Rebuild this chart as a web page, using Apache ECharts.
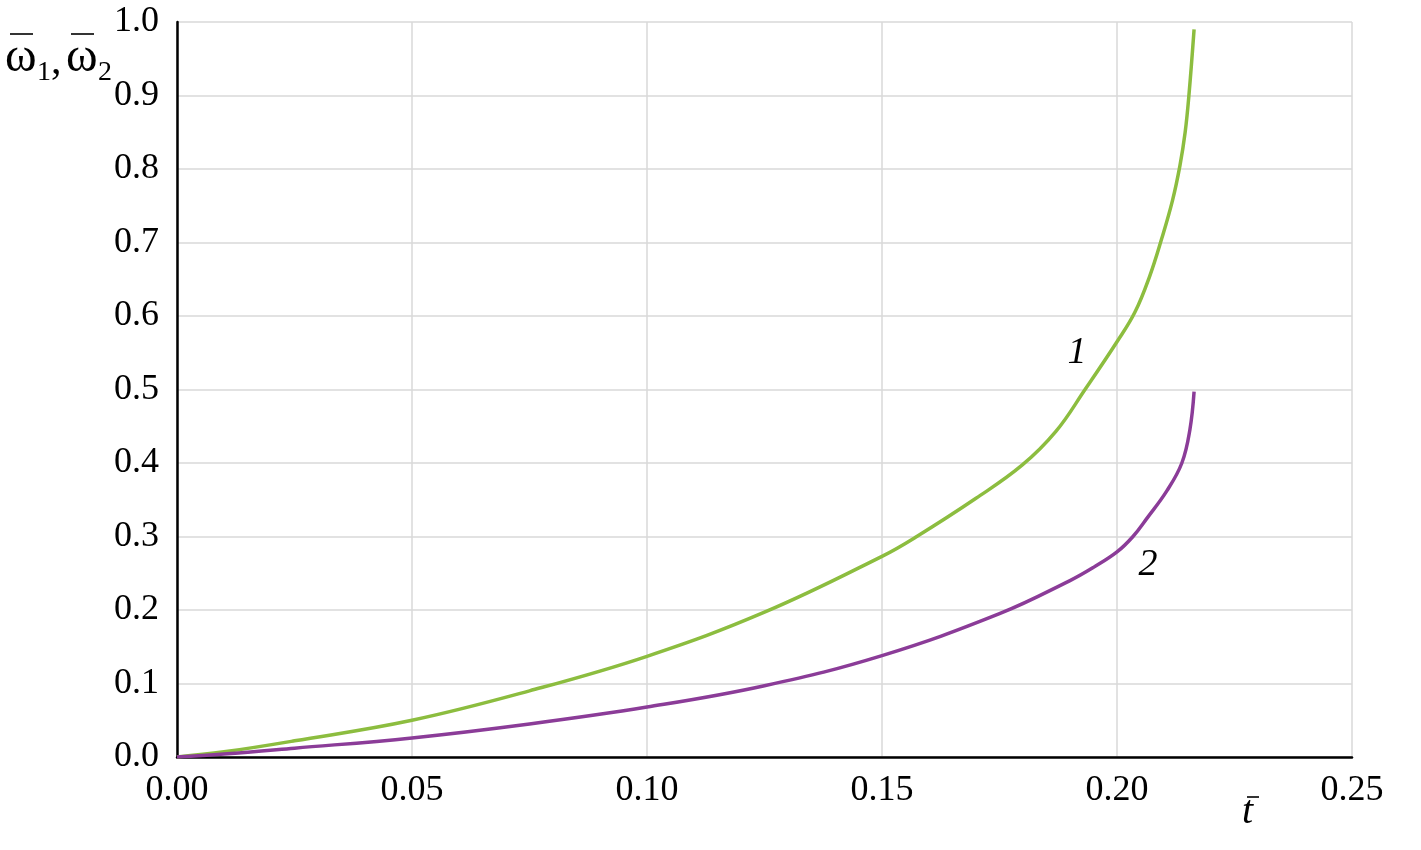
<!DOCTYPE html>
<html>
<head>
<meta charset="utf-8">
<script src="https://cdn.jsdelivr.net/npm/echarts@6/dist/echarts.min.js"></script>
<style>html,body{margin:0;padding:0;background:#fff}#c{width:1421px;height:850px}</style>
</head>
<body>
<div id="c"></div>
<script>
// Curve 1 (green)
const t1 = [0, 0.01, 0.025, 0.05, 0.075, 0.1, 0.125, 0.15, 0.1574, 0.17, 0.1798, 0.187, 0.1932, 0.2, 0.2038, 0.207, 0.2095, 0.2118, 0.2134, 0.2145, 0.2153, 0.2164];
const w1 = [0, 0.007, 0.022, 0.05, 0.09, 0.137, 0.197, 0.273, 0.3, 0.352, 0.397, 0.443, 0.5, 0.565, 0.605, 0.655, 0.705, 0.757, 0.805, 0.85, 0.9, 0.99];
// Curve 2 (purple)
const t2 = [0, 0.01, 0.025, 0.05, 0.075, 0.1, 0.125, 0.15, 0.175, 0.19, 0.195, 0.2, 0.2034, 0.2064, 0.2106, 0.2138, 0.2155, 0.2164];
const w2 = [0, 0.004, 0.012, 0.026, 0.045, 0.068, 0.097, 0.138, 0.195, 0.24, 0.258, 0.279, 0.3, 0.325, 0.362, 0.4, 0.445, 0.497];
const curveLabels = ['1', '2'];
const yTitleParts = ['ω', '1', ',', 'ω', '2'];
const xTitle = 't';

const font = '"Liberation Serif", "Times New Roman", serif';
const chart = echarts.init(document.getElementById('c'));
const pair = (a, b) => a.map((v, i) => [v, b[i]]);
const txt = (s, x, y, size, italic) => ({ type: 'text', x, y, z: 10,
  style: { text: s, fontFamily: font, fontSize: size, fontStyle: italic ? 'italic' : 'normal', fill: '#000', align: 'left', verticalAlign: 'middle' } });
const bar = (x1, x2, y) => ({ type: 'line', z: 10, shape: { x1, y1: y, x2, y2: y }, style: { stroke: '#000', lineWidth: 1.6 } });
chart.setOption({
  animation: false,
  backgroundColor: '#fff',
  grid: { left: 177, right: 69, top: 22, bottom: 93 },
  xAxis: {
    type: 'value', min: 0, max: 0.25, interval: 0.05,
    axisLine: { lineStyle: { color: '#000', width: 2.5 } },
    axisTick: { show: false },
    splitLine: { show: true, lineStyle: { color: '#d9d9d9', width: 1.5 } },
    axisLabel: { fontFamily: font, fontSize: 36, color: '#000', margin: 16,
      formatter: v => v.toFixed(2) }
  },
  yAxis: {
    type: 'value', min: 0, max: 1, interval: 0.1,
    axisLine: { show: true, lineStyle: { color: '#000', width: 2.5 } },
    axisTick: { show: false },
    splitLine: { show: true, lineStyle: { color: '#d9d9d9', width: 1.5 } },
    axisLabel: { fontFamily: font, fontSize: 36, color: '#000', margin: 18,
      formatter: v => v.toFixed(1) }
  },
  series: [
    { type: 'line', data: pair(t1, w1), showSymbol: false, smooth: 0.4,
      lineStyle: { color: '#8cbd3f', width: 3.5 }, z: 3 },
    { type: 'line', data: pair(t2, w2), showSymbol: false, smooth: 0.4,
      lineStyle: { color: '#8b3c98', width: 3.5 }, z: 3 }
  ],
  graphic: [
    txt(yTitleParts[0], 5, 58, 48, false),
    bar(10, 33, 34),
    txt(yTitleParts[1], 37, 73, 28, false),
    txt(yTitleParts[2], 51, 62, 42, false),
    txt(yTitleParts[3], 66, 58, 48, false),
    bar(71, 94, 34),
    txt(yTitleParts[4], 98, 73, 28, false),
    txt(xTitle, 1242, 812, 40, true),
    bar(1247, 1259, 797),
    { type: 'text', x: 1077, y: 353, z: 10,
      style: { text: curveLabels[0], fontFamily: font, fontSize: 38, fontStyle: 'italic', fill: '#000', align: 'center', verticalAlign: 'middle' } },
    { type: 'text', x: 1148, y: 565, z: 10,
      style: { text: curveLabels[1], fontFamily: font, fontSize: 38, fontStyle: 'italic', fill: '#000', align: 'center', verticalAlign: 'middle' } }
  ]
});
</script>
</body>
</html>
